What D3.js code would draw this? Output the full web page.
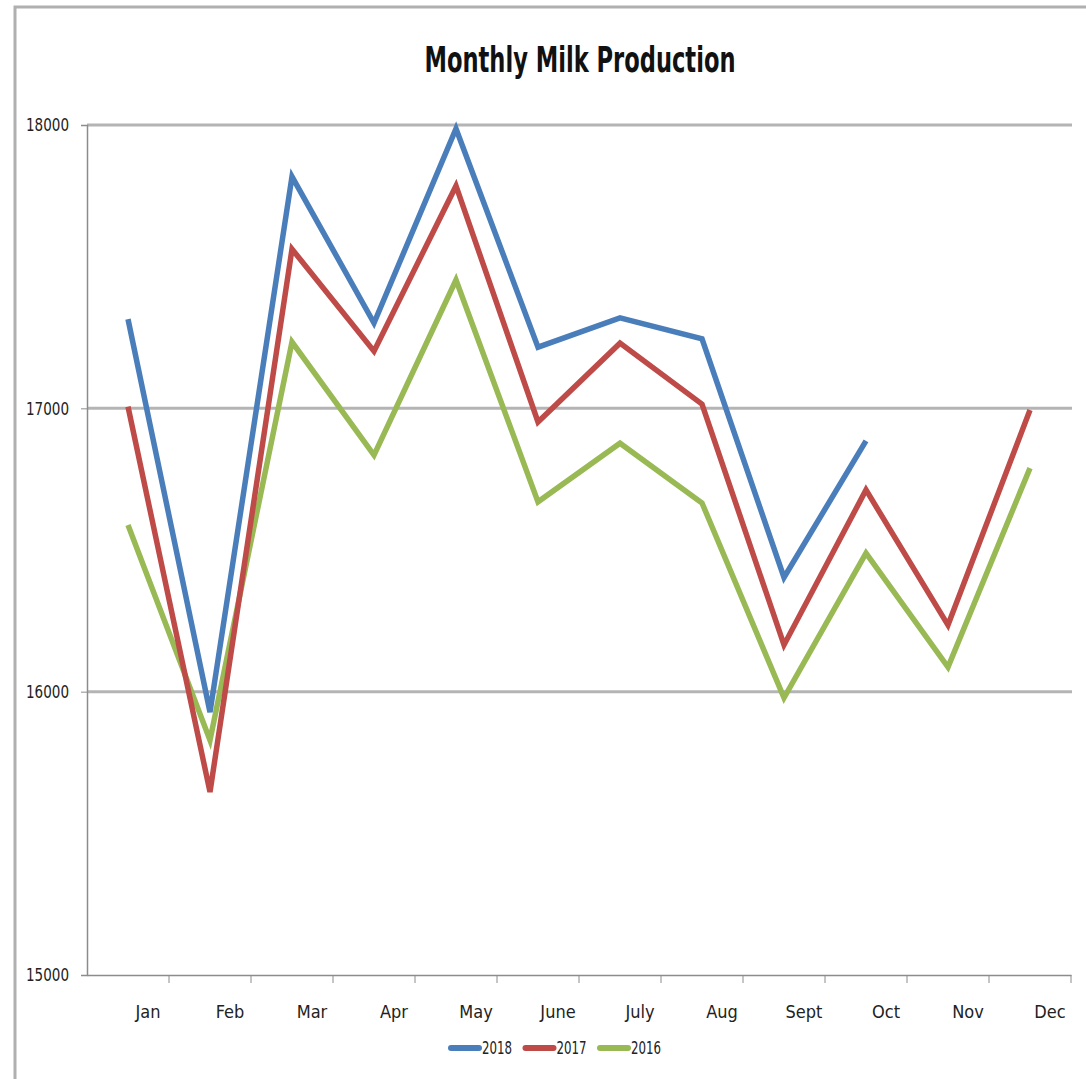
<!doctype html>
<html lang="en">
<head>
<meta charset="utf-8">
<title>Monthly Milk Production</title>
<style>
  body { margin: 0; background: #fff; }
  .grid line { stroke: #b4b4b4; stroke-width: 3px; }
  .axis path, .axis line { stroke: #8c8c8c; }
  .axis text { font-family: "Liberation Sans Narrow", "DejaVu Sans Condensed", sans-serif; font-size: 18px; fill: #222; }
  .series { fill: none; stroke-width: 5.5px; stroke-linejoin: miter; }
</style>
</head>
<body>
<svg width="1086" height="1079"></svg>
<script src="https://cdnjs.cloudflare.com/ajax/libs/d3/7.8.5/d3.min.js"></script>
<script>
// data
var months = ["Jan", "Feb", "Mar", "Apr", "May", "June", "July", "Aug", "Sept", "Oct", "Nov", "Dec"];
var milk2018 = [17315, 15928, 17818, 17301, 17987, 17216, 17319, 17245, 16403, 16885, null, null];
var milk2017 = [17006, 15646, 17562, 17202, 17785, 16952, 17230, 17015, 16165, 16712, 16235, 16994];
var milk2016 = [16588, 15829, 17234, 16835, 17453, 16670, 16877, 16666, 15978, 16489, 16087, 16789];
var yTicks = [15000, 16000, 17000, 18000];

var seriesList = [
  {name: "2018", values: milk2018, color: "#4a7ebb"},
  {name: "2017", values: milk2017, color: "#be4b48"},
  {name: "2016", values: milk2016, color: "#98b954"}
];

var svg = d3.select("svg");

// outer frame of the chart
svg.append("path")
    .attr("d", "M15,1079 V7 H1086")
    .attr("fill", "none")
    .attr("stroke", "#b0b0b0")
    .attr("stroke-width", 3);

var x = d3.scaleBand().domain(months).range([87, 1071]);
var y = d3.scaleLinear().domain([15000, 18000]).range([975, 125]);

// gridlines
svg.append("g")
    .attr("class", "grid")
  .selectAll("line")
  .data(yTicks.slice(1))
  .enter().append("line")
    .attr("x1", 87)
    .attr("x2", 1072)
    .attr("y1", function(d) { return y(d); })
    .attr("y2", function(d) { return y(d); });

// y axis
var yAxis = svg.append("g")
    .attr("class", "axis")
    .attr("transform", "translate(87,0)")
    .call(d3.axisLeft(y).tickValues(yTicks).tickSize(6).tickPadding(12).tickFormat(d3.format("d")));
yAxis.select(".domain").attr("stroke-width", 1.5);
yAxis.selectAll(".tick text").attr("textLength", 43).attr("lengthAdjust", "spacingAndGlyphs");

// x axis: labels (shifted right like the original), ticks at the category edges
var xAxis = svg.append("g")
    .attr("class", "axis")
    .attr("transform", "translate(0,975)")
    .call(d3.axisBottom(x).tickSize(0).tickPadding(30));
xAxis.select(".domain").attr("stroke-width", 1.5);
xAxis.selectAll(".tick text").attr("dx", 20);

svg.append("g")
    .attr("class", "axis")
  .selectAll("line")
  .data(months.map(function(m) { return x(m) + x.bandwidth(); }))
  .enter().append("line")
    .attr("x1", function(d) { return d; })
    .attr("x2", function(d) { return d; })
    .attr("y1", 975)
    .attr("y2", 983);

var line = d3.line()
    .defined(function(d) { return d.v != null; })
    .x(function(d) { return x(d.m) + x.bandwidth() / 2; })
    .y(function(d) { return y(d.v); });

svg.selectAll(".series")
  .data(seriesList.slice().reverse())
  .enter().append("path")
    .attr("class", "series")
    .attr("stroke", function(d) { return d.color; })
    .attr("d", function(d) {
      return line(d.values.map(function(v, i) { return {m: months[i], v: v}; }));
    });

// title
svg.append("text")
    .attr("x", 580)
    .attr("y", 72)
    .attr("text-anchor", "middle")
    .attr("textLength", 311)
    .attr("lengthAdjust", "spacingAndGlyphs")
    .style("font-family", "'Liberation Sans Narrow', 'DejaVu Sans Condensed', sans-serif")
    .style("font-weight", "bold")
    .style("font-size", "36px")
    .style("fill", "#111")
    .text("Monthly Milk Production");

// legend
var legend = svg.append("g")
    .attr("transform", "translate(449,1048)");

var item = legend.selectAll("g")
  .data(seriesList)
  .enter().append("g")
    .attr("transform", function(d, i) { return "translate(" + (i * 74.5) + ",0)"; });

item.append("line")
    .attr("x1", 2)
    .attr("x2", 30)
    .attr("stroke", function(d) { return d.color; })
    .attr("stroke-width", 6)
    .attr("stroke-linecap", "round");

item.append("text")
    .attr("x", 33)
    .attr("dy", "0.35em")
    .attr("textLength", 30)
    .attr("lengthAdjust", "spacingAndGlyphs")
    .style("font-family", "'Liberation Sans Narrow', 'DejaVu Sans Condensed', sans-serif")
    .style("font-size", "17px")
    .style("fill", "#222")
    .text(function(d) { return d.name; });
</script>
</body>
</html>
